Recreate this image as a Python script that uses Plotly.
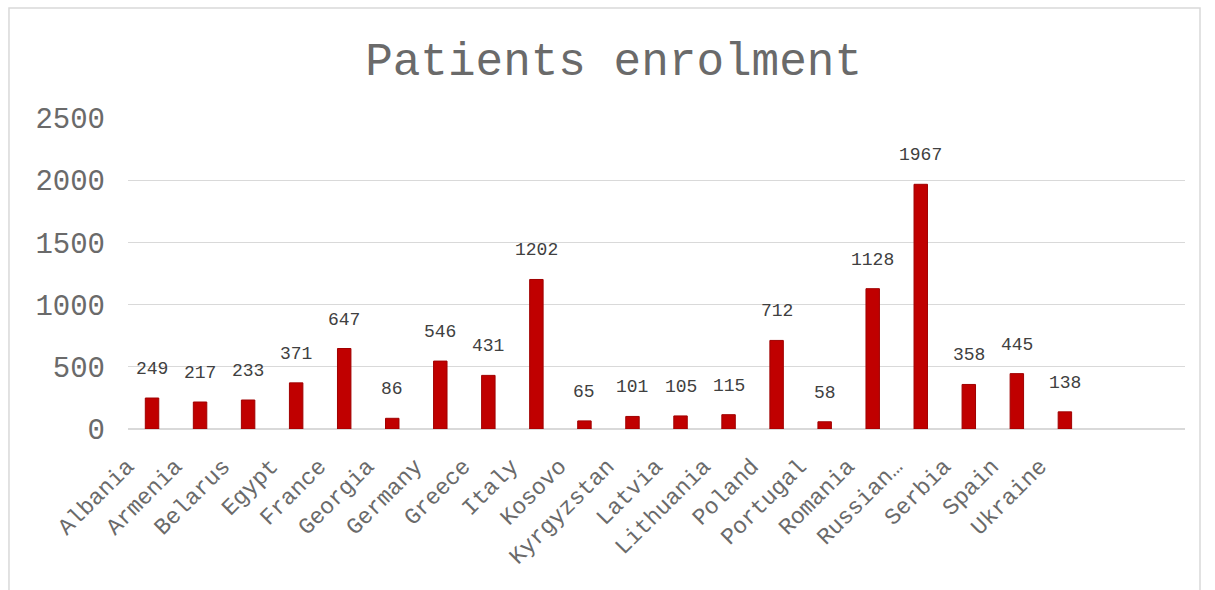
import plotly.graph_objects as go

categories = ["Albania", "Armenia", "Belarus", "Egypt", "France", "Georgia", "Germany",
              "Greece", "Italy", "Kosovo", "Kyrgyzstan", "Latvia", "Lithuania", "Poland",
              "Portugal", "Romania", "Russian Federation", "Serbia", "Spain", "Ukraine"]
tick_labels = ["Albania", "Armenia", "Belarus", "Egypt", "France", "Georgia", "Germany",
               "Greece", "Italy", "Kosovo", "Kyrgyzstan", "Latvia", "Lithuania", "Poland",
               "Portugal", "Romania", "Russian…", "Serbia", "Spain", "Ukraine"]
patients = [249, 217, 233, 371, 647, 86, 546, 431, 1202, 65, 101, 105, 115, 712, 58,
            1128, 1967, 358, 445, 138]
y_ticks = [0, 500, 1000, 1500, 2000, 2500]

FONT = "Courier New, Liberation Mono, monospace"
GRAY = "#6a6a6a"

fig = go.Figure()
fig.add_trace(go.Bar(
    x=categories, y=patients, width=0.28,
    marker=dict(color="#C00000", line=dict(color="#A00000", width=1)),
    hoverinfo="x+y",
))

for c, v in zip(categories, patients):
    fig.add_annotation(x=c, y=v, text=str(v), showarrow=False, yanchor="bottom",
                       yshift=17, font=dict(family=FONT, size=18, color="#404040"))

fig.add_shape(type="rect", xref="paper", yref="paper", x0=-0.1126, x1=1.0142,
              y0=-0.6, y1=1.3537, line=dict(color="#D9D9D9", width=1.5),
              fillcolor="rgba(0,0,0,0)", layer="below")

fig.update_layout(
    width=1215, height=590,
    margin=dict(l=128, r=30, t=118, b=161),
    paper_bgcolor="white", plot_bgcolor="white",
    showlegend=False,
    title=dict(text="Patients enrolment", x=0.505, xref="container", y=0.9,
               yref="container", yanchor="middle",
               font=dict(family=FONT, size=46, color=GRAY)),
    xaxis=dict(range=[-0.5, 21.5], tickmode="array", tickvals=categories,
               ticktext=tick_labels, tickangle=-45, showgrid=False, showline=False,
               ticks="", tickfont=dict(family=FONT, size=23, color=GRAY),
               ticklabelstandoff=18, ticklabelshift=-25),
    yaxis=dict(range=[0, 2500], tickvals=y_ticks, showgrid=True, gridcolor="#D9D9D9",
               gridwidth=1, zeroline=True, zerolinecolor="#D9D9D9", showline=False,
               ticks="", ticklen=0, tickfont=dict(family=FONT, size=29, color=GRAY),
               ticklabelstandoff=22),
)

fig.write_html("out.html")
